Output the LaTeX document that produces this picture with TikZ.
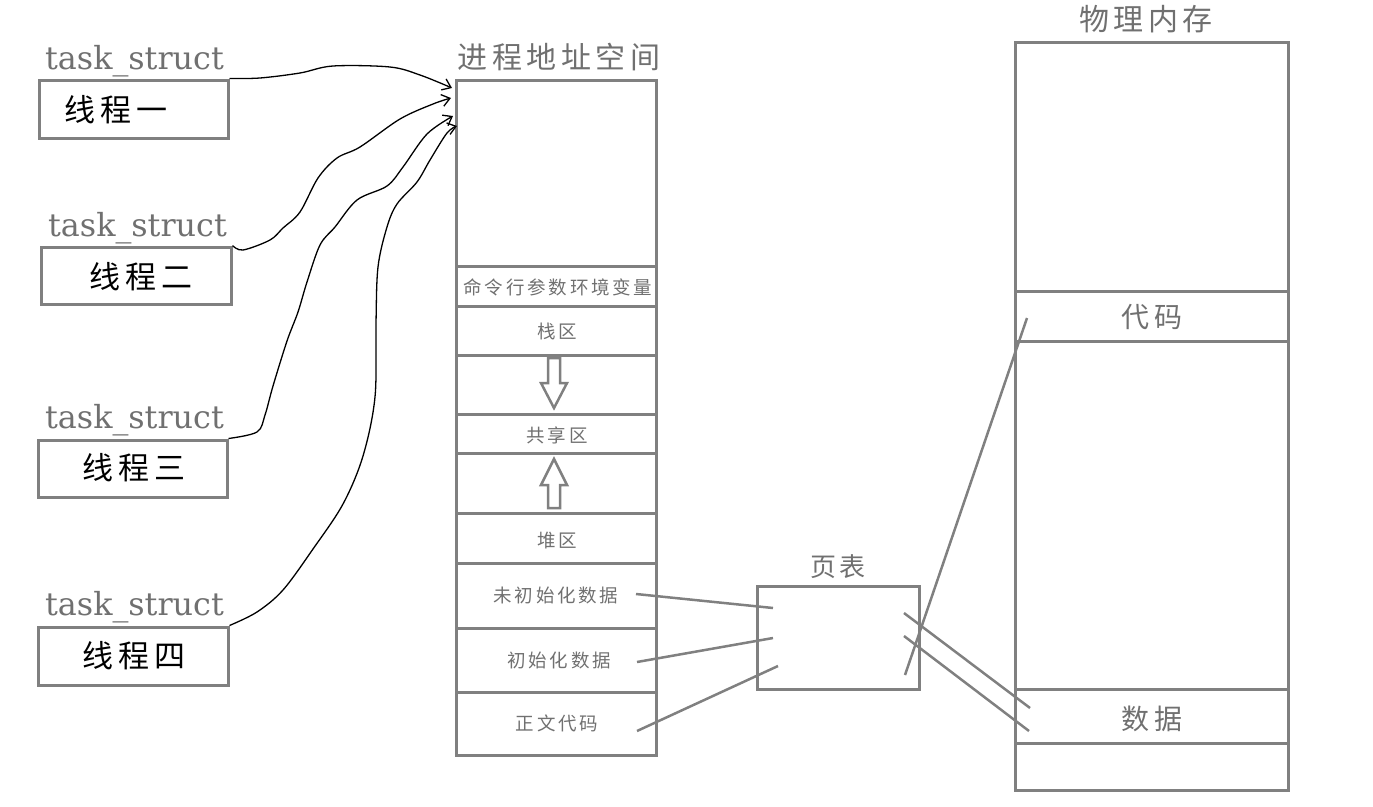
\documentclass[tikz,border=0pt]{standalone}
\usepackage{fontspec}
\setmainfont{Liberation Serif}
\newfontfamily\cjk{Noto Sans CJK SC}[LetterSpace=15]
\newfontfamily\latser{DejaVu Serif}
\usetikzlibrary{arrows.meta}
\definecolor{lg}{RGB}{128,128,128}
\definecolor{tg}{RGB}{112,112,112}
\begin{document}
\begin{tikzpicture}[x=1pt,y=-1pt,
  box/.style={draw=lg,line width=3pt,inner sep=0pt},
  conn/.style={draw=lg,line width=2.5pt},
  hollow/.style={draw=lg,line width=2.5pt,line join=miter},
  hand/.style={draw=black,line width=1.3pt,-{Straight Barb[length=8pt,width=12pt]}},
  tslabel/.style={font=\latser\fontsize{31.8}{31.8}\selectfont,text=tg,inner sep=0pt,anchor=base west},
  thr/.style={font=\cjk\fontsize{31}{31}\selectfont,text=black,inner sep=0pt},
  title/.style={font=\cjk\fontsize{30}{30}\selectfont,text=tg,inner sep=0pt},
  seglab/.style={font=\cjk\fontsize{18.5}{18.5}\selectfont,text=tg,inner sep=0pt},
  memlab/.style={font=\cjk\fontsize{28}{28}\selectfont,text=tg,inner sep=0pt}]
\useasboundingbox (0,0) rectangle (1373,806);

% thread boxes
\node[box,minimum width=189,minimum height=58] (t1) at (133.5,109) {};
\node[box,minimum width=190,minimum height=57] (t2) at (136,275.5) {};
\node[box,minimum width=189,minimum height=57] (t3) at (132.5,468.5) {};
\node[box,minimum width=190,minimum height=58] (t4) at (133,656) {};
\node[thr] (t1txt) at (116,110) {线程一};
\node[thr] (t2txt) at (141,277) {线程二};
\node[thr] (t3txt) at (134,468) {线程三};
\node[thr] (t4txt) at (134,656) {线程四};
\node[tslabel] (ts1) at (45,69) {task\_struct};
\node[tslabel] (ts2) at (48,236) {task\_struct};
\node[tslabel] (ts3) at (45,428) {task\_struct};
\node[tslabel] (ts4) at (45,615) {task\_struct};

% process address space
\node[title] (pastitle) at (559,57) {进程地址空间};
\node[box,minimum width=200,minimum height=186] (s0) at (556,173) {};
\node[box,minimum width=200,minimum height=40] (s1) at (556,286) {};
\node[box,minimum width=200,minimum height=49] (s2) at (556,330.5) {};
\node[box,minimum width=200,minimum height=59] (s3) at (556,384.5) {};
\node[box,minimum width=200,minimum height=39] (s4) at (556,433.5) {};
\node[box,minimum width=200,minimum height=60] (s5) at (556,483) {};
\node[box,minimum width=200,minimum height=50] (s6) at (556,538) {};
\node[box,minimum width=200,minimum height=65] (s7) at (556,595.5) {};
\node[box,minimum width=200,minimum height=64] (s8) at (556,660) {};
\node[box,minimum width=200,minimum height=63] (s9) at (556,723.5) {};
\node[seglab] (l1) at (558,287) {命令行参数环境变量};
\node[seglab] (l2) at (557,331) {栈区};
\node[seglab] (l4) at (557,435) {共享区};
\node[seglab] (l6) at (557,541) {堆区};
\node[seglab] (l7) at (556,595) {未初始化数据};
\node[seglab] (l8) at (559,660) {初始化数据};
\node[seglab] (l9) at (557,723) {正文代码};

% hollow arrows
\draw[hollow] (548,358) -- (560,358) -- (560,383) -- (567,383) -- (554,408) -- (541,383) -- (548,383) -- cycle;
\draw[hollow] (548,508) -- (560,508) -- (560,485) -- (567,485) -- (554,459) -- (541,485) -- (548,485) -- cycle;

% page table
\node[title,font=\cjk\fontsize{26}{26}\selectfont] (pttitle) at (838,567) {页表};
\node[box,minimum width=162,minimum height=103] (pt) at (838,637.5) {};

% physical memory
\node[title] (memtitle) at (1146,19) {物理内存};
\node[box,minimum width=273,minimum height=249] (m0) at (1151.5,166.5) {};
\node[box,minimum width=273,minimum height=50] (m1) at (1151.5,316) {};
\node[box,minimum width=273,minimum height=348] (m2) at (1151.5,515) {};
\node[box,minimum width=273,minimum height=54] (m3) at (1151.5,716) {};
\node[box,minimum width=273,minimum height=47] (m4) at (1151.5,766.5) {};
\node[memlab] (code) at (1152,317) {代码};
\node[memlab] (data) at (1152,719) {数据};

% connectors column -> page table
\coordinate (a7) at (636,594);
\coordinate (a8) at (637,662);
\coordinate (a9) at (637,731);
\coordinate (p7) at (773,608);
\coordinate (p8) at (773,638);
\coordinate (p9) at (778,666);
\draw[conn] (a7) -- (p7);
\draw[conn] (a8) -- (p8);
\draw[conn] (a9) -- (p9);

% page table -> memory
\coordinate (q1) at (905,675);
\coordinate (r1) at (1027,318);
\coordinate (q2) at (904,613);
\coordinate (r2) at (1030,708);
\coordinate (q3) at (904,636);
\coordinate (r3) at (1029,731);
\draw[conn] (q1) -- (r1);
\draw[conn] (q2) -- (r2);
\draw[conn] (q3) -- (r3);

% hand-drawn arrows
\coordinate (h1) at (452,88);
\coordinate (h2) at (451,98);
\coordinate (h3) at (453,116);
\coordinate (h4) at (457,126);
\draw[hand] plot[smooth,tension=0.55] coordinates {(t1.north east) (260,78) (300,73) (333,66) (390,67) (420,75) (h1)};
\draw[hand] plot[smooth,tension=0.55] coordinates {(t2.north east) (243,250) (270,240) (283,228) (300,212) (318,178) (337,158) (360,147) (400,119) (433,104) (h2)};
\draw[hand] plot[smooth,tension=0.55] coordinates {(t3.north east) (257,432) (265,415) (273,386) (287,341) (298,312) (307,282) (320,245) (335,227) (357,200) (387,186) (403,167) (427,134) (h3)};
\draw[hand] plot[smooth,tension=0.55] coordinates {(t4.north east) (257,612) (283,590) (313,549) (343,504) (363,456) (375,397) (376,323) (378,267) (387,227) (397,204) (417,182) (430,160) (447,133) (h4)};
\end{tikzpicture}
\end{document}
